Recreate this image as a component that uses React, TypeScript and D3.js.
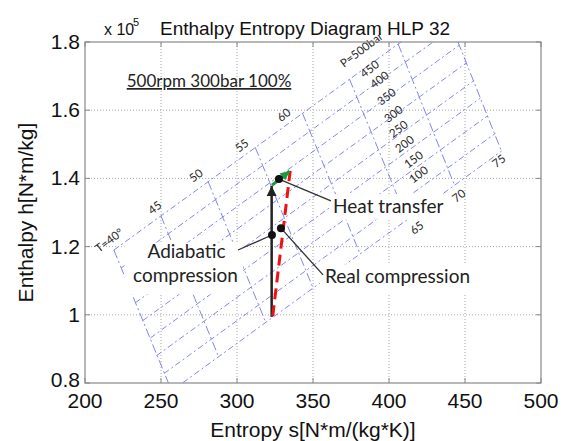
import React from "react";
import * as d3 from "d3";

// ---- axes ----
const sTicks = [200, 250, 300, 350, 400, 450, 500];
const hTicks = [80000, 100000, 120000, 140000, 160000, 180000];
const hTickLabels = ["0.8", "1", "1.2", "1.4", "1.6", "1.8"];

// ---- isotherms (T in °C): endpoints at P=500 bar (top) and P=100 bar (bottom) ----
const isoT = [40, 45, 50, 55, 60, 65, 70, 75];
const isoTopS = [219, 250, 281, 312, 343, 374, 406, 437];
const isoTopH = [119000, 129000, 139100, 149100, 159200, 169100, 179400, 189400];
const isoBotS = [257, 288, 319, 350, 381, 412, 443, 474];
const isoBotH = [77700, 87600, 97700, 107900, 117800, 127800, 138100, 148000];

// ---- isobars (bar): endpoints at T=40 (left) and T=75 (right) ----
const isoP = [500, 450, 400, 350, 300, 250, 200, 150, 100];
const barLeftS = [219, 224, 229, 233, 238, 243, 247, 252, 257];
const barLeftH = [119000, 113800, 108700, 103500, 98300, 93200, 88000, 82800, 77700];
const barRightS = [437, 442, 446, 451, 456, 460, 465, 470, 474];
const barRightH = [189400, 184200, 179000, 173900, 168700, 163500, 158400, 153200, 148000];

// ---- isoline labels ----
const tLabelText = ["T=40°", "45", "50", "55", "60", "65", "70", "75"];
const tLabelS = [209.2, 244.1, 271.1, 301.3, 328.9, 416.4, 444.1, 470.4];
const tLabelH = [118100, 129300, 138700, 147500, 156500, 123400, 132800, 143000];
const pLabelText = ["P=500bar", "450", "400", "350", "300", "250", "200", "150", "100"];
const pLabelS = [370.4, 383.6, 390.1, 394.7, 399.3, 402.6, 406.6, 412.5, 415.8];
const pLabelH = [172400, 169400, 166200, 161200, 156200, 151800, 147400, 142800, 138400];

// ---- process ----
const adiabaticS = [322.8, 322.8];
const adiabaticH = [99400, 137800];
const realS = [323.5, 335.0];
const realH = [99600, 142200];
const heatS = [323.0, 334.6];
const heatH = [138000, 142100];

// ---- annotations: dot, leader end ----
const noteText = ["Heat transfer", "Real compression", "Adiabatic compression"];
const dotS = [327.6, 328.9, 323.0];
const dotH = [139800, 125400, 123400];
const leaderEndS = [361.8, 356.6, 300.7];
const leaderEndH = [133400, 111700, 119000];

const W = 570;
const H = 441;

export default function App() {
  const x = d3.scaleLinear().domain([200, 500]).range([85, 541]);
  const y = d3.scaleLinear().domain([80000, 180000]).range([383, 42]);
  const [x0, x1] = x.range();
  const [y0, y1] = y.range();

  const line = d3
    .line<[number, number]>()
    .x((d) => x(d[0]))
    .y((d) => y(d[1]));

  const sansAxis = "'Liberation Sans', Arial, sans-serif";
  const sansNote = "Lato, 'Open Sans', sans-serif";
  const blue = "#6f6ff5";
  const rot = -37;

  const arrow = (sx: number, sy: number, ex: number, ey: number, size: number) => {
    const ang = Math.atan2(ey - sy, ex - sx);
    const p2 = [ex - size * Math.cos(ang) + (size / 2) * Math.sin(ang), ey - size * Math.sin(ang) - (size / 2) * Math.cos(ang)];
    const p3 = [ex - size * Math.cos(ang) - (size / 2) * Math.sin(ang), ey - size * Math.sin(ang) + (size / 2) * Math.cos(ang)];
    return `M${ex},${ey}L${p2[0]},${p2[1]}L${p3[0]},${p3[1]}Z`;
  };

  const adTop = [x(adiabaticS[1]), y(adiabaticH[1])];
  const adBot = [x(adiabaticS[0]), y(adiabaticH[0])];
  const htA = [x(heatS[0]), y(heatH[0])];
  const htB = [x(heatS[1]), y(heatH[1])];

  // white text boxes (data-space corners: sMin, sMax, hMax, hMin)
  const boxes = [
    [360.5, 437, 135400, 127900],
    [354.5, 458, 114800, 106200],
    [226, 304, 121200, 106000],
  ];

  return (
    <svg width={W} height={H} style={{ position: "absolute", left: 0, top: 0, background: "#fff" }}>
      <defs>
        <clipPath id="plotclip">
          <rect x={x0} y={y1} width={x1 - x0} height={y0 - y1} />
        </clipPath>
      </defs>
      <rect x={0} y={0} width={W} height={H} fill="#fff" />

      {/* grid */}
      {sTicks.slice(1, -1).map((s) => (
        <line key={"gx" + s} x1={x(s)} x2={x(s)} y1={y0} y2={y1} stroke="#aaa" strokeWidth={1} strokeDasharray="1,2" />
      ))}
      {hTicks.slice(1, -1).map((h) => (
        <line key={"gy" + h} x1={x0} x2={x1} y1={y(h)} y2={y(h)} stroke="#aaa" strokeWidth={1} strokeDasharray="1,2" />
      ))}

      {/* isolines */}
      <g clipPath="url(#plotclip)" fill="none" stroke={blue} strokeWidth={1} opacity={0.85}>
        {isoT.map((t, i) => (
          <path
            key={"it" + t}
            d={line([
              [isoTopS[i], isoTopH[i]],
              [isoBotS[i], isoBotH[i]],
            ]) as string}
            strokeDasharray="9,3,2,3"
          />
        ))}
        {isoP.map((p, i) => (
          <path
            key={"ip" + p}
            d={line([
              [barLeftS[i], barLeftH[i]],
              [barRightS[i], barRightH[i]],
            ]) as string}
            strokeDasharray="6,3,2,3"
          />
        ))}
      </g>

      {/* white annotation boxes */}
      {boxes.map((b, i) => (
        <rect key={"bx" + i} x={x(b[0])} y={y(b[2])} width={x(b[1]) - x(b[0])} height={y(b[3]) - y(b[2])} fill="#fff" />
      ))}

      {/* isoline labels */}
      <g fontFamily={sansNote} fontSize={11.5} fill="#2a2a2a">
        {tLabelText.map((t, i) => (
          <text key={"tl" + i} transform={`translate(${x(tLabelS[i])},${y(tLabelH[i])}) rotate(${rot})`}>
            {t}
          </text>
        ))}
        {pLabelText.map((t, i) => (
          <text key={"pl" + i} transform={`translate(${x(pLabelS[i])},${y(pLabelH[i])}) rotate(${rot})`}>
            {t}
          </text>
        ))}
      </g>

      {/* process lines */}
      <path d={line([[adiabaticS[0], adiabaticH[0]], [adiabaticS[1], adiabaticH[1]]]) as string} stroke="#222" strokeWidth={2.5} fill="none" />
      <path d={arrow(adBot[0], adBot[1], adTop[0], adTop[1], 10)} fill="#222" />
      <path
        d={line([[realS[0], realH[0]], [realS[1], realH[1]]]) as string}
        stroke="#ee1111"
        strokeWidth={3}
        strokeDasharray="11,6"
        fill="none"
      />
      <path d={`M${htA[0]},${htA[1]}L${htB[0]},${htB[1]}`} stroke="#1a9a3a" strokeWidth={3} fill="none" />
      <path d={arrow(htA[0], htA[1], htB[0], htB[1], 9)} fill="#1a9a3a" />

      {/* leader lines and dots */}
      {dotS.map((s, i) => (
        <line key={"ld" + i} x1={x(s)} y1={y(dotH[i])} x2={x(leaderEndS[i])} y2={y(leaderEndH[i])} stroke="#333" strokeWidth={1.3} />
      ))}
      {dotS.map((s, i) => (
        <circle key={"dt" + i} cx={x(s)} cy={y(dotH[i])} r={4} fill="#111" />
      ))}

      {/* annotations */}
      <g fontFamily={sansNote} fontSize={19} fill="#222">
        <text x={x(363.2)} y={y(129850)}>{noteText[0]}</text>
        <text x={x(357.9)} y={y(109300)}>{noteText[1]}</text>
        <text x={x(266.8)} y={y(116660)} textAnchor="middle">Adiabatic</text>
        <text x={x(266.1)} y={y(109600)} textAnchor="middle">compression</text>
        <text x={x(281.6)} y={y(166800)} textAnchor="middle" fontSize={17} textDecoration="underline">
          500rpm 300bar 100%
        </text>
      </g>

      {/* frame */}
      <rect x={x0} y={y1} width={x1 - x0} height={y0 - y1} fill="none" stroke="#888" strokeWidth={1.2} />
      {sTicks.map((s) => (
        <g key={"tx" + s}>
          <line x1={x(s)} x2={x(s)} y1={y0} y2={y0 - 5} stroke="#888" />
          <line x1={x(s)} x2={x(s)} y1={y1} y2={y1 + 5} stroke="#888" />
        </g>
      ))}
      {hTicks.map((h) => (
        <g key={"ty" + h}>
          <line x1={x0} x2={x0 + 5} y1={y(h)} y2={y(h)} stroke="#888" />
          <line x1={x1} x2={x1 - 5} y1={y(h)} y2={y(h)} stroke="#888" />
        </g>
      ))}

      {/* tick labels */}
      <g fontFamily={sansAxis} fontSize={21} fill="#111">
        {sTicks.map((s) => (
          <text key={"xl" + s} x={x(s)} y={408} textAnchor="middle">
            {s}
          </text>
        ))}
        {hTicks.map((h, i) => (
          <text key={"yl" + h} x={80} y={y(h) + (i === 0 ? 4 : 7)} textAnchor="end">
            {hTickLabels[i]}
          </text>
        ))}
        <text x={(x0 + x1) / 2} y={437} textAnchor="middle">
          Entropy s[N*m/(kg*K)]
        </text>
        <text transform={`translate(33,${(y0 + y1) / 2}) rotate(-90)`} textAnchor="middle">
          Enthalpy h[N*m/kg]
        </text>
      </g>

      {/* title */}
      <g fontFamily={sansAxis} fill="#111">
        <text x={104} y={35} fontSize={16}>x 10</text>
        <text x={133} y={26} fontSize={11}>5</text>
        <text x={305} y={35} fontSize={19} textAnchor="middle">
          Enthalpy Entropy Diagram HLP 32
        </text>
      </g>
    </svg>
  );
}
